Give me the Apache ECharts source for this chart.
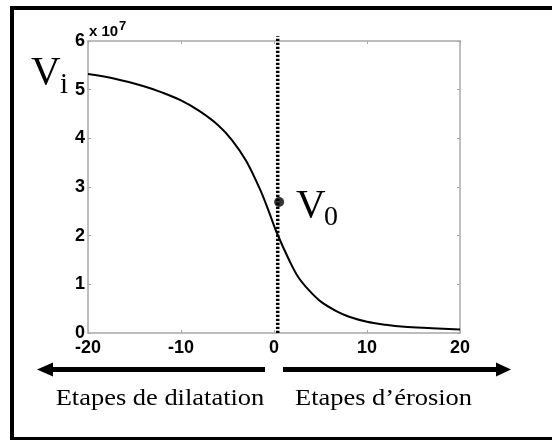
<!DOCTYPE html>
<html>
<head>
<meta charset="utf-8">
<script src="https://cdn.jsdelivr.net/npm/echarts@6/dist/echarts.min.js"></script>
<style>
html,body{margin:0;padding:0;background:#fff;}
#chart{width:552px;height:440px;}
</style>
</head>
<body>
<div id="chart"></div>
<script>
// Data (values in units of 1e7)
var stepsX = [-20, -17, -14, -12, -10, -8, -6, -4.5, -3, -1.5, -0.5, 0.3, 1.7, 2.6, 3.7, 5, 6.7, 8, 10, 12, 14, 17, 20];
var volumes = [5.32, 5.22, 5.07, 4.94, 4.78, 4.56, 4.27, 3.96, 3.54, 2.95, 2.47, 2.06, 1.47, 1.15, 0.89, 0.65, 0.45, 0.34, 0.23, 0.17, 0.13, 0.1, 0.07];
var dividerX = [0.4, 0.4];
var dividerY = [0, 6.1];
var v0Point = [0.55, 2.69];
var xTicks = [-20, -10, 0, 10, 20];
var yTicks = [0, 1, 2, 3, 4, 5, 6];
var exponentLabel = 'x 10';
var exponentSup = '7';
var leftLabel = 'Etapes de dilatation';
var rightLabel = 'Etapes d\u2019érosion';

var curveData = stepsX.map(function (x, i) { return [x, volumes[i]]; });
var dividerData = dividerX.map(function (x, i) { return [x, dividerY[i]]; });

var axisGray = '#a8a8a8';
var tickFont = {color: '#000', fontFamily: 'Liberation Sans', fontWeight: 'bold', fontSize: 18};

var chart = echarts.init(document.getElementById('chart'), null, {renderer: 'canvas'});
chart.setOption({
  animation: false,
  backgroundColor: '#fff',
  grid: {left: 88, right: 92, top: 41, bottom: 107},
  xAxis: [{
    type: 'value', min: xTicks[0], max: xTicks[xTicks.length - 1], interval: 10,
    axisLine: {show: true, onZero: false, lineStyle: {color: axisGray, width: 1.5}},
    axisTick: {show: true, inside: true, length: 3, lineStyle: {color: axisGray}},
    axisLabel: Object.assign({margin: 6}, tickFont),
    splitLine: {show: false}
  }, {
    type: 'value', position: 'top', min: xTicks[0], max: xTicks[xTicks.length - 1], interval: 10,
    axisLine: {show: true, onZero: false, lineStyle: {color: axisGray, width: 1.5}},
    axisTick: {show: true, inside: true, length: 3, lineStyle: {color: axisGray}},
    axisLabel: {show: false}, splitLine: {show: false}
  }],
  yAxis: [{
    type: 'value', min: yTicks[0], max: yTicks[yTicks.length - 1], interval: 1,
    axisLine: {show: true, onZero: false, lineStyle: {color: axisGray, width: 1.5}},
    axisTick: {show: true, inside: true, length: 3, lineStyle: {color: axisGray}},
    axisLabel: Object.assign({margin: 3}, tickFont),
    splitLine: {show: false}
  }, {
    type: 'value', position: 'right', min: yTicks[0], max: yTicks[yTicks.length - 1], interval: 1,
    axisLine: {show: true, onZero: false, lineStyle: {color: axisGray, width: 1.5}},
    axisTick: {show: true, inside: true, length: 3, lineStyle: {color: axisGray}},
    axisLabel: {show: false}, splitLine: {show: false}
  }],
  series: [{
    type: 'line', data: curveData, smooth: 0.35, symbol: 'none',
    lineStyle: {color: '#000', width: 2}, z: 3
  }, {
    type: 'line', data: dividerData, symbol: 'none', clip: false,
    lineStyle: {color: '#000', width: 3.5, type: [2.2, 1.8]}, z: 4
  }, {
    type: 'scatter', data: [v0Point], symbol: 'circle', symbolSize: 10,
    itemStyle: {color: '#000'}, z: 5
  }],
  graphic: [
    {type: 'rect', shape: {x: 12, y: 8, width: 600, height: 431}, style: {fill: 'none', stroke: '#000', lineWidth: 4}, z: 10},
    {type: 'text', x: 89, y: 32, style: {text: exponentLabel, font: 'bold 15px "Liberation Sans"', fill: '#000', verticalAlign: 'middle'}},
    {type: 'text', x: 119, y: 26, style: {text: exponentSup, font: 'bold 13px "Liberation Sans"', fill: '#000', verticalAlign: 'middle'}},
    {type: 'text', x: 31, y: 73, style: {text: 'V', font: '41px "Liberation Serif"', fill: '#000', verticalAlign: 'middle'}},
    {type: 'text', x: 60, y: 85, style: {text: 'i', font: '29px "Liberation Serif"', fill: '#000', verticalAlign: 'middle'}},
    {type: 'text', x: 296, y: 206, style: {text: 'V', font: '41px "Liberation Serif"', fill: '#000', verticalAlign: 'middle'}},
    {type: 'text', x: 324, y: 218, style: {text: '0', font: '28px "Liberation Serif"', fill: '#000', verticalAlign: 'middle'}},
    {type: 'line', shape: {x1: 50, y1: 369.5, x2: 265, y2: 369.5}, style: {stroke: '#000', lineWidth: 5}},
    {type: 'polygon', shape: {points: [[37, 369.5], [53, 362.5], [53, 376.5]]}, style: {fill: '#000'}},
    {type: 'line', shape: {x1: 283, y1: 369.5, x2: 498, y2: 369.5}, style: {stroke: '#000', lineWidth: 5}},
    {type: 'polygon', shape: {points: [[511, 369.5], [496, 362.5], [496, 376.5]]}, style: {fill: '#000'}},
    {type: 'text', x: 160, y: 399, scaleX: 1.15, style: {text: leftLabel, font: '23px "Liberation Serif"', fill: '#000', align: 'center', verticalAlign: 'middle'}},
    {type: 'text', x: 383.5, y: 399, scaleX: 1.15, style: {text: rightLabel, font: '23px "Liberation Serif"', fill: '#000', align: 'center', verticalAlign: 'middle'}}
  ]
});
</script>
</body>
</html>
